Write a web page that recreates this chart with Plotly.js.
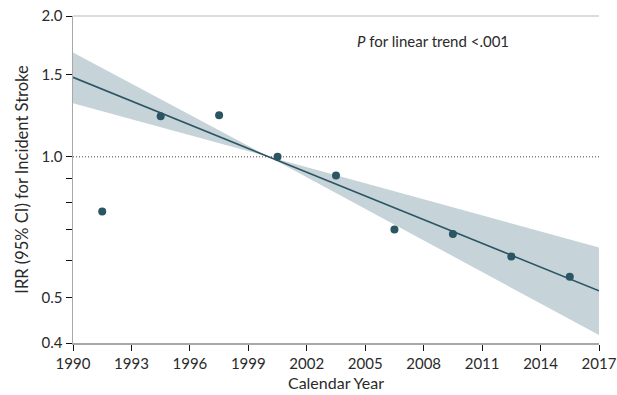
<!DOCTYPE html>
<html>
<head>
<meta charset="utf-8">
<script src="https://cdn.plot.ly/plotly-3.0.1.min.js"></script>
<style>html,body{margin:0;padding:0;background:#fff;}#chart{width:617px;height:395px;}</style>
</head>
<body>
<div id="chart"></div>
<script>
// Observed incidence rate ratios (midpoint of each 3-year period)
const periodYears = [1991.5, 1994.5, 1997.5, 2000.5, 2003.5, 2006.5, 2009.5, 2012.5, 2015.5];
const irrValues   = [0.764, 1.221, 1.227, 1.0, 0.912, 0.699, 0.684, 0.612, 0.554];

// Fitted linear trend (log scale) and its 95% CI
const fitYears  = [1990, 2017];
const fitValues = [1.479, 0.517];
const bandYears = [1990, 2000.05, 2017];
const bandUpper = [1.672, 1.0, 0.640];
const bandLower = [1.301, 1.0, 0.416];

// Reference line
const refYears = [1990, 2017];
const refValues = [1.0, 1.0];

// Axis ticks
const xTicks = [1990, 1993, 1996, 1999, 2002, 2005, 2008, 2011, 2014, 2017];
const yTickVals = [0.4, 0.5, 0.6, 0.7, 0.8, 0.9, 1.0, 1.5, 2.0];
const yTickText = ['0.4', '0.5', '', '', '', '', '1.0', '1.5', '2.0'];

const dark = '#2b5563';
const band = '#c6d3d9';
const font = 'Lato, "Open Sans", sans-serif';
const txt = '#2a2a2a';

const traces = [
  {x: bandYears, y: bandUpper, mode: 'lines', line: {width: 0, color: band}, hoverinfo: 'skip', showlegend: false},
  {x: bandYears, y: bandLower, mode: 'lines', line: {width: 0, color: band}, fill: 'tonexty', fillcolor: band, hoverinfo: 'skip', showlegend: false},
  {x: refYears, y: refValues, mode: 'lines', line: {color: '#444', width: 1, dash: '1px,2px'}, showlegend: false},
  {x: fitYears, y: fitValues, mode: 'lines', line: {color: dark, width: 1.6}, showlegend: false},
  {x: periodYears, y: irrValues, mode: 'markers', marker: {color: dark, size: 8}, showlegend: false}
];

const layout = {
  width: 617, height: 395,
  margin: {l: 73, r: 18, t: 16, b: 52},
  paper_bgcolor: '#fff', plot_bgcolor: '#fff',
  font: {family: font, size: 15, color: txt},
  xaxis: {
    range: [1990, 2017], tickvals: xTicks, ticks: 'outside', ticklen: 6, tickcolor: '#111', tickwidth: 1,
    showline: true, linecolor: '#a8a8a8', linewidth: 1.5, showgrid: false, zeroline: false,
    tickfont: {family: font, size: 15, color: txt},
    title: {text: 'Calendar Year', font: {family: font, size: 16, color: txt}, standoff: 7}
  },
  yaxis: {
    type: 'log', range: [Math.log10(0.4), Math.log10(2.0)],
    tickvals: yTickVals, ticktext: yTickText, ticks: 'outside', ticklen: 6, tickcolor: '#111', tickwidth: 1,
    showline: true, linecolor: '#a8a8a8', linewidth: 1.5, showgrid: false, zeroline: false,
    tickfont: {family: font, size: 15, color: txt},
    title: {text: 'IRR (95% CI) for Incident Stroke', font: {family: font, size: 16.5, color: txt}, standoff: 9}
  },
  shapes: [
    {type: 'line', xref: 'paper', yref: 'paper', x0: 0, x1: 1, y0: 1, y1: 1, line: {color: '#dcdcdc', width: 2}}
  ],
  annotations: [
    {xref: 'paper', yref: 'paper', x: 0.685, y: 0.925, xanchor: 'center', yanchor: 'middle', showarrow: false,
     text: '<i>P</i> for linear trend &lt;.001', font: {family: font, size: 15, color: txt}}
  ]
};

Plotly.newPlot('chart', traces, layout, {displayModeBar: false, staticPlot: true});
</script>
</body>
</html>
